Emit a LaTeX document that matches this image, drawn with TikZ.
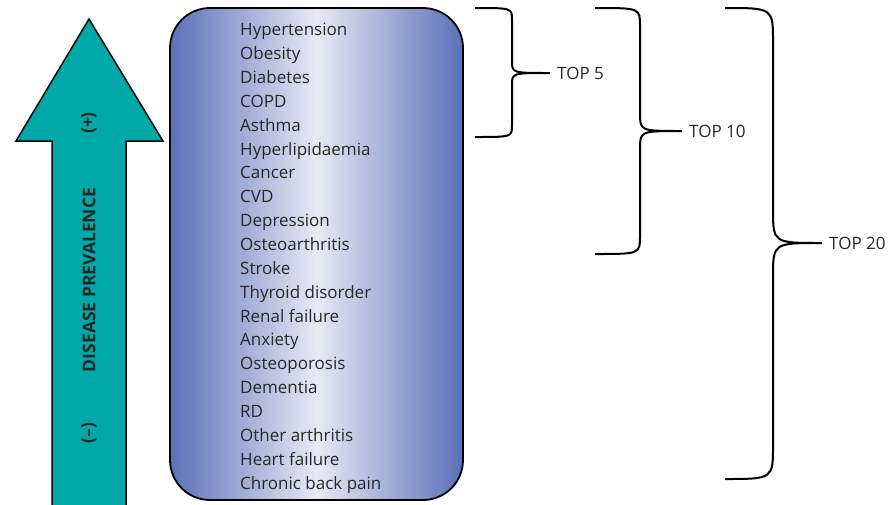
\documentclass[tikz,border=0pt]{standalone}
\usepackage{fontspec}
\setmainfont{Open Sans}
\usepackage{xcolor}
\usepackage{tikz}
\usetikzlibrary{positioning,calc}
\definecolor{prevteal}{HTML}{00A9A8}
\definecolor{listblue}{HTML}{5A70B7}
\definecolor{listlight}{HTML}{E8E9F5}
\definecolor{itemgray}{HTML}{282828}

\begin{document}
\begin{tikzpicture}[
    x=1pt, y=-1pt,
    font=\fontsize{17}{20}\selectfont,
    listbox/.style={rectangle, draw, line width=1.8pt, rounded corners=40pt, minimum width=293pt, minimum height=492pt, left color=listblue, right color=listblue, middle color=listlight},
    item/.style={anchor=base west, inner sep=0pt, text=itemgray},
    arrowtext/.style={rotate=90, inner sep=0pt, text=black!85, font=\fontsize{17.5}{20}\selectfont\bfseries},
    toplabel/.style={anchor=west, inner xsep=7pt, inner ysep=0pt, text=itemgray, font=\fontsize{17}{20}\selectfont},
    bracket/.style={line width=2pt}
]
    \useasboundingbox (0,0) rectangle (896,504);

    % Prevalence arrow
    \filldraw[fill=prevteal, line width=1.5pt] (52,510) -- (52,141) -- (16,141) -- (89,19) -- (163,141) -- (126,141) -- (126,510);
    \node[arrowtext] (plus) at (89,123) {(+)};
    \node[arrowtext] (prev) at (89,280) {DISEASE PREVALENCE};
    \node[arrowtext] (minus) at (89,433) {(--)};

    % Disease list
    \node[listbox] (list) at (316.5,254) {};
    \foreach \name [count=\i] in {Hypertension, Obesity, Diabetes, COPD, Asthma, Hyperlipidaemia, Cancer, CVD, Depression, Osteoarthritis, Stroke, Thyroid disorder, Renal failure, Anxiety, Osteoporosis, Dementia, RD, Other arthritis, Heart failure, Chronic back pain} {
        \node[item] (d\i) at (240,{35.7+(\i-1)*23.86}) {\name};
    }

    % Brackets
    \foreach \n/\xe/\xv/\xt/\yb/\ym/\ry in {5/475/512/550/137/73/12, 10/595/640/682/254/131/18, 20/725/773/822/479/243/34} {
        \node[toplabel] (top\n) at (\xt,\ym) {TOP \n};
        \draw[bracket] (\xe,8) .. controls (\xv,8) .. (\xv,8+\ry) -- (\xv,\ym-\ry) .. controls (\xv,\ym) .. (top\n.west)
            .. controls (\xv,\ym) .. (\xv,\ym+\ry) -- (\xv,\yb-\ry) .. controls (\xv,\yb) .. (\xe,\yb);
    }
\end{tikzpicture}
\end{document}
